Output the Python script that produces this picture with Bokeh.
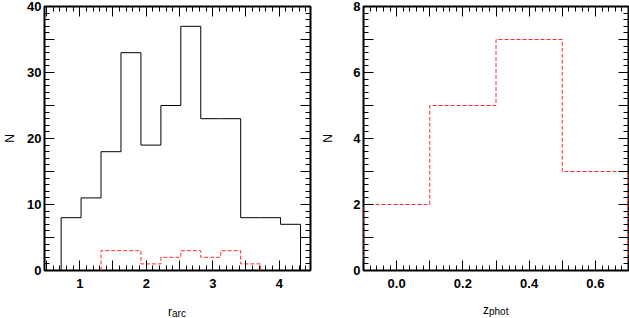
import numpy as np
from bokeh.plotting import figure
from bokeh.layouts import row
from bokeh.models import FixedTicker, CustomJSTickFormatter, LinearAxis, Title
from bokeh.embed import file_html
from bokeh.resources import INLINE

# ---- data: left panel (r_arc histogram) ----
r_edges = [0.72, 1.02, 1.32, 1.62, 1.92, 2.22, 2.52, 2.82, 3.12, 3.42, 3.72, 4.02, 4.32]
r_all = [8, 11, 18, 33, 19, 25, 37, 23, 23, 8, 8, 7]
r_sub = [0, 0, 3, 3, 1, 2, 3, 2, 3, 1, 0, 0]

# ---- data: right panel (z_phot histogram) ----
z_edges = [-0.1, 0.1, 0.3, 0.5, 0.7]
z_sub = [2, 5, 7, 3]

FONT = "Liberation Sans"
RED = "#ff2a2a"


def step_path(edges, vals):
    nz = [i for i, v in enumerate(vals) if v != 0]
    i0, i1 = nz[0], nz[-1]
    xs, ys = [edges[i0]], [0]
    for i in range(i0, i1 + 1):
        xs += [edges[i], edges[i + 1]]
        ys += [vals[i], vals[i]]
    xs.append(edges[i1 + 1])
    ys.append(0)
    return xs, ys


def ticks(a, b, step):
    n = int(round((b - a) / step))
    return [round(a + k * step, 6) for k in range(n + 1)]


def style(p, xmaj, xmin, ymaj, ymin, xfmt, yfmt, ylabel_standoff, spacer):
    p.outline_line_color = "black"
    p.outline_line_width = 2
    p.xgrid.visible = False
    p.ygrid.visible = False
    bottom = p.below[0]
    left = p.left[0]
    xt = FixedTicker(ticks=xmaj, minor_ticks=xmin)
    yt = FixedTicker(ticks=ymaj, minor_ticks=ymin)
    bottom.ticker = xt
    left.ticker = yt
    bottom.formatter = CustomJSTickFormatter(code=xfmt)
    left.formatter = CustomJSTickFormatter(code=yfmt)
    blank = CustomJSTickFormatter(code='return "";')
    top = LinearAxis(ticker=xt, formatter=blank)
    right = LinearAxis(ticker=yt, formatter=blank)
    p.add_layout(top, "above")
    p.add_layout(right, "right")
    for ax in (bottom, left, top, right):
        ax.axis_line_color = None
        ax.major_tick_in = 10
        ax.major_tick_out = 0
        ax.minor_tick_in = 5
        ax.minor_tick_out = 0
        ax.major_tick_line_color = "black"
        ax.minor_tick_line_color = "black"
        ax.major_label_text_font = FONT
        ax.major_label_text_font_style = "bold"
        ax.major_label_text_font_size = "13px"
        ax.major_label_text_color = "black"
    for ax in (top, right):
        ax.major_label_standoff = 0
        ax.major_label_text_font_size = "0px"
    bottom.major_label_standoff = 8
    left.major_label_standoff = 3
    left.axis_label = "N"
    left.axis_label_text_font = FONT
    left.axis_label_text_font_style = "normal"
    left.axis_label_text_font_size = "12px"
    left.axis_label_text_color = "black"
    left.axis_label_standoff = ylabel_standoff
    # invisible spacer below the tick labels (one hidden tick, no text)
    gap = LinearAxis(ticker=FixedTicker(ticks=[xmaj[2]], minor_ticks=[]), formatter=blank,
                     axis_line_color=None, major_tick_line_color=None,
                     minor_tick_line_color=None, major_tick_in=0, major_tick_out=spacer,
                     minor_tick_in=0, minor_tick_out=0, major_label_standoff=0,
                     major_label_text_font_size="0px")
    p.add_layout(gap, "below")


def add_title(p, text, size, offset, standoff):
    p.add_layout(Title(text=text, align="left", offset=offset, vertical_align="bottom",
                       standoff=standoff, text_font=FONT, text_font_style="normal",
                       text_font_size=size, text_color="black"),
                 "below")


# ---------------- left figure ----------------
p1 = figure(width=318, height=318, x_range=(0.47, 4.47), y_range=(0, 40),
            output_backend="svg", toolbar_location=None,
            min_border_left=44, min_border_right=8, min_border_top=6, min_border_bottom=48)
style(p1, ticks(0.5, 4.5, 0.5), ticks(0.5, 4.4, 0.1), ticks(0, 40, 5), ticks(0, 40, 1),
      "return Math.abs(tick - Math.round(tick)) < 1e-6 ? String(Math.round(tick)) : '';",
      "return Math.abs(tick/10 - Math.round(tick/10)) < 1e-6 ? String(Math.round(tick)) : '';",
      7, 19)
xs, ys = step_path(r_edges, r_all)
p1.line(xs, ys, line_color="black", line_width=1)
xs, ys = step_path(r_edges, r_sub)
p1.line(xs, ys, line_color=RED, line_width=1, line_dash="4 2")
add_title(p1, "r", "12px", 123.5, -13)
add_title(p1, "arc", "10px", 127.5, -12.6)

# ---------------- right figure ----------------
p2 = figure(width=311, height=318, x_range=(-0.1, 0.7), y_range=(0, 8),
            output_backend="svg", toolbar_location=None,
            min_border_left=44, min_border_right=1, min_border_top=6, min_border_bottom=48)
style(p2, ticks(-0.1, 0.7, 0.1), ticks(-0.1, 0.7, 0.02), ticks(0, 8, 1), ticks(0, 8, 0.2),
      "const k = Math.round(tick*10); return (Math.abs(tick*10 - k) < 1e-6 && k % 2 == 0) ? (k/10).toFixed(1) : '';",
      "const k = Math.round(tick); return (Math.abs(tick - k) < 1e-6 && k % 2 == 0) ? String(k) : '';",
      15, 17)
xs, ys = step_path(z_edges, z_sub)
p2.line(xs, ys, line_color=RED, line_width=1, line_dash="4 2")
add_title(p2, "z", "12px", 119.5, -13)
add_title(p2, "phot", "10px", 125.5, -13)

layout = row(p1, p2)
open("out.html", "w").write(file_html(layout, INLINE))
